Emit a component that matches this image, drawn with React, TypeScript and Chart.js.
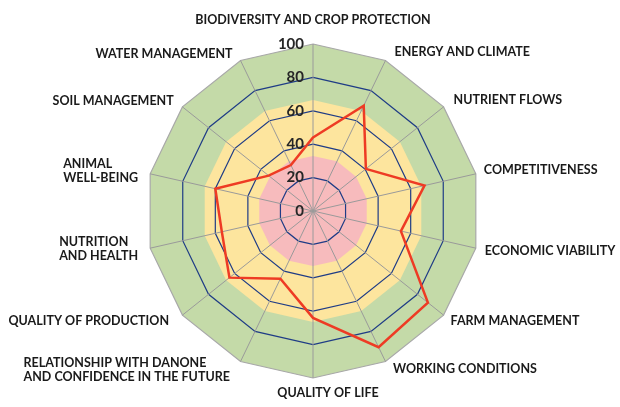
import React, { useEffect, useRef } from "react";
import { Chart, registerables } from "chart.js";

Chart.register(...registerables);

const categories: string[][] = [
  ["BIODIVERSITY AND CROP PROTECTION"],
  ["ENERGY AND CLIMATE"],
  ["NUTRIENT FLOWS"],
  ["COMPETITIVENESS"],
  ["ECONOMIC VIABILITY"],
  ["FARM MANAGEMENT"],
  ["WORKING CONDITIONS"],
  ["QUALITY OF LIFE"],
  ["RELATIONSHIP WITH DANONE", "AND CONFIDENCE IN THE FUTURE"],
  ["QUALITY OF PRODUCTION"],
  ["NUTRITION", "AND HEALTH"],
  ["ANIMAL", "WELL-BEING"],
  ["SOIL MANAGEMENT"],
  ["WATER MANAGEMENT"],
];

const scores = [44, 70, 40.5, 68.5, 54, 88, 90.5, 64, 45, 64, 56, 60, 34, 30.5];

const bandLimits = [100, 66.5, 33];
const bandColors = ["#C4DAA8", "#FDE59E", "#F7BBBD"];

const tickValues = [0, 20, 40, 60, 80, 100];

// label placement relative to each outer vertex: [dx, dy, align]
const labelLayout: [number, number, CanvasTextAlign][] = [
  [0, -24, "center"],
  [9, -9, "left"],
  [10, -7, "left"],
  [8, -4, "left"],
  [9, 3, "left"],
  [7, 6, "left"],
  [7.5, 8, "left"],
  [15, 15, "center"],
  [-217, 8.5, "left"],
  [-13.4, 6, "right"],
  [-91, 1, "left"],
  [-87, -3, "left"],
  [-8.7, -6, "right"],
  [-8, -7, "right"],
];

const overlayPlugin = {
  id: "overlay",
  beforeDraw(chart: any) {
    const s = chart.scales.r;
    const ctx = chart.ctx;
    const n = categories.length;
    ctx.save();
    bandLimits.forEach((v, k) => {
      const d = s.getDistanceFromCenterForValue(v);
      ctx.beginPath();
      for (let i = 0; i < n; i++) {
        const p = s.getPointPosition(i, d);
        if (i === 0) ctx.moveTo(p.x, p.y);
        else ctx.lineTo(p.x, p.y);
      }
      ctx.closePath();
      ctx.fillStyle = bandColors[k];
      ctx.fill();
    });
    ctx.restore();
  },
  afterDraw(chart: any) {
    const s = chart.scales.r;
    const ctx = chart.ctx;
    ctx.save();
    // tick labels
    ctx.font = "bold 15px Lato";
    ctx.fillStyle = "#262626";
    ctx.textAlign = "right";
    ctx.textBaseline = "middle";
    tickValues.forEach((v) => {
      const d = s.getDistanceFromCenterForValue(v);
      ctx.fillText(String(v), s.xCenter - 9, s.yCenter - d);
    });
    // point labels
    ctx.font = "bold 12.5px Lato";
    ctx.fillStyle = "#1a1a1a";
    const lh = 14;
    categories.forEach((lines, i) => {
      const p = s.getPointPosition(i, s.drawingArea);
      const [dx, dy, align] = labelLayout[i];
      ctx.textAlign = align;
      const y0 = p.y + dy - ((lines.length - 1) * lh) / 2;
      lines.forEach((t, j) => ctx.fillText(t, p.x + dx, y0 + j * lh));
    });
    ctx.restore();
  },
};

export default function App() {
  const ref = useRef<HTMLCanvasElement | null>(null);
  useEffect(() => {
    if (!ref.current) return;
    const chart = new Chart(ref.current, {
      type: "radar",
      data: {
        labels: categories.map((c) => c.join(" ")),
        datasets: [
          {
            data: scores,
            borderColor: "#EE3B24",
            borderWidth: 2.5,
            pointRadius: 0,
            fill: false,
            tension: 0,
          },
        ],
      },
      options: {
        animation: false,
        responsive: true,
        maintainAspectRatio: false,
        layout: { padding: { left: 113, right: 107, top: 44, bottom: 29 } },
        plugins: { legend: { display: false }, tooltip: { enabled: false } },
        scales: {
          r: {
            min: 0,
            max: 100,
            ticks: { stepSize: 20, display: false },
            pointLabels: { display: false },
            grid: {
              circular: false,
              color: (c: any) => (c.tick && c.tick.value === 100 ? "#A8A8A8" : "#1F3C86"),
              lineWidth: 1.2,
            },
            angleLines: { color: "#9A9A9A", lineWidth: 1 },
          },
        },
      },
      plugins: [overlayPlugin],
    });
    return () => chart.destroy();
  }, []);
  return (
    <div style={{ position: "absolute", left: 0, top: 0, width: 620, height: 407 }}>
      <canvas ref={ref} />
    </div>
  );
}
